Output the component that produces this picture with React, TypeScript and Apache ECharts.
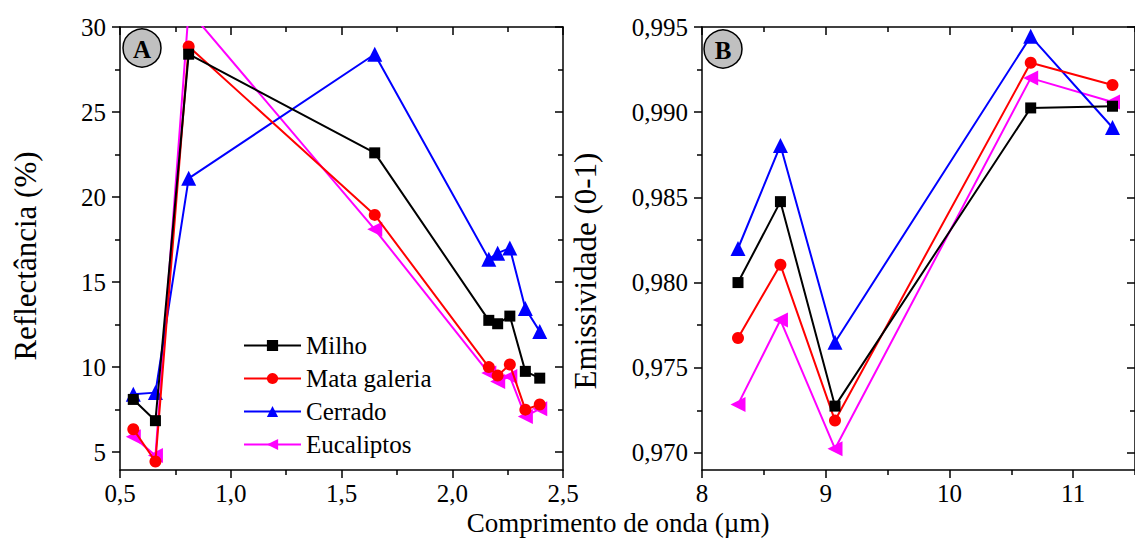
import React, { useEffect, useRef } from "react";
import * as echarts from "echarts";

// ---- Data ----
const seriesNames = ["Milho", "Mata galeria", "Cerrado", "Eucaliptos"];
const seriesColors = ["#000000", "#ff0000", "#0000ff", "#ff00ff"];
const seriesSymbols = ["rect", "circle", "triangle", "triangle"];
const seriesRotate = [0, 0, 0, 90];
const seriesSymbolSizes = [11, 12, 15, 15];

// Panel A: reflectance (%) vs wavelength (µm)
const wavelengthA = [0.56, 0.66, 0.81, 1.65, 2.165, 2.205, 2.26, 2.33, 2.395];
const milhoA = [8.1, 6.85, 28.4, 22.6, 12.75, 12.55, 13.0, 9.75, 9.35];
const mataA = [6.35, 4.45, 28.85, 18.95, 10.0, 9.5, 10.15, 7.5, 7.8];
const cerradoA = [8.4, 8.5, 21.1, 28.4, 16.35, 16.7, 17.0, 13.45, 12.1];
const eucaliptosA = [5.9, 4.8, 31.0, 18.1, 9.65, 9.15, 9.45, 7.1, 7.55];

// Panel B: emissivity (0-1) vs wavelength (µm)
const wavelengthB = [8.291, 8.634, 9.075, 10.657, 11.318];
const milhoB = [0.98, 0.98475, 0.97275, 0.99025, 0.99035];
const mataB = [0.97675, 0.98105, 0.9719, 0.9929, 0.9916];
const cerradoB = [0.982, 0.98805, 0.9765, 0.99445, 0.9891];
const eucaliptosB = [0.97285, 0.9778, 0.97025, 0.992, 0.9906];

// Tick values
const ticksYA = [5, 10, 15, 20, 25, 30];
const minorYA = [7.5, 12.5, 17.5, 22.5, 27.5];
const ticksXA = [0.5, 1.0, 1.5, 2.0, 2.5];
const minorXA = [0.75, 1.25, 1.75, 2.25];
const ticksYB = [0.97, 0.975, 0.98, 0.985, 0.99, 0.995];
const minorYB = [0.9725, 0.9775, 0.9825, 0.9875, 0.9925];
const ticksXB = [8, 9, 10, 11];
const minorXB = [8.5, 9.5, 10.5, 11.5];

const FONT = "Liberation Serif";

function makeAxes(
  dir: "x" | "y",
  gridIndex: number,
  min: number,
  max: number,
  major: number[],
  minor: number[],
  fmt: (v: number) => string
) {
  const lineStyle = { color: "#000", width: 1.5 };
  const main = dir === "x" ? "bottom" : "left";
  const mirror = dir === "x" ? "top" : "right";
  const base = { type: "value", gridIndex, min, max, splitLine: { show: false } };
  return [
    {
      ...base,
      position: main,
      axisLine: { show: true, onZero: false, lineStyle },
      axisTick: { show: true, inside: false, length: 8, customValues: major, lineStyle },
      axisLabel: {
        show: true,
        customValues: major,
        formatter: (v: number) => fmt(v),
        fontFamily: FONT,
        fontSize: 25,
        color: "#000",
        margin: dir === "x" ? 11 : 14,
      },
    },
    {
      ...base,
      position: main,
      axisLine: { show: false, onZero: false },
      axisTick: { show: true, inside: false, length: 5, customValues: minor, lineStyle },
      axisLabel: { show: false },
    },
    {
      ...base,
      position: mirror,
      axisLine: { show: true, onZero: false, lineStyle },
      axisTick: { show: true, inside: true, length: 8, customValues: major, lineStyle },
      axisLabel: { show: false },
    },
    {
      ...base,
      position: mirror,
      axisLine: { show: false, onZero: false },
      axisTick: { show: true, inside: true, length: 5, customValues: minor, lineStyle },
      axisLabel: { show: false },
    },
  ];
}

export default function App() {
  const ref = useRef<HTMLDivElement>(null);
  useEffect(() => {
    if (!ref.current) return;
    const chart = echarts.init(ref.current, null, { renderer: "svg" });
    const fmtComma1 = (v: number) => v.toFixed(1).replace(".", ",");
    const fmtComma3 = (v: number) => v.toFixed(3).replace(".", ",");
    const fmtInt = (v: number) => String(Math.round(v));

    const xAxes = [
      ...makeAxes("x", 0, 0.5, 2.5, ticksXA, minorXA, fmtComma1),
      ...makeAxes("x", 1, 8, 11.5, ticksXB, minorXB, fmtInt),
    ];
    const yAxes = [
      ...makeAxes("y", 0, 3.95, 30, ticksYA, minorYA, fmtInt),
      ...makeAxes("y", 1, 0.969, 0.995, ticksYB, minorYB, fmtComma3),
    ];

    const dataA = [milhoA, mataA, cerradoA, eucaliptosA];
    const dataB = [milhoB, mataB, cerradoB, eucaliptosB];
    const series: any[] = [];
    seriesNames.forEach((name, i) => {
      const common = {
        type: "line",
        name,
        symbol: seriesSymbols[i],
        symbolSize: seriesSymbolSizes[i],
        symbolRotate: seriesRotate[i],
        lineStyle: { color: seriesColors[i], width: 2 },
        itemStyle: { color: seriesColors[i] },
        clip: true,
        z: 10 - i,
      };
      series.push({
        ...common,
        xAxisIndex: 0,
        yAxisIndex: 0,
        data: wavelengthA.map((x, k) => [x, dataA[i][k]]),
      });
      series.push({
        ...common,
        xAxisIndex: 4,
        yAxisIndex: 4,
        data: wavelengthB.map((x, k) => [x, dataB[i][k]]),
      });
    });

    const titleStyle = {
      fontFamily: FONT,
      fontSize: 31,
      fill: "#000",
      align: "center",
      verticalAlign: "middle",
    };

    chart.setOption({
      animation: false,
      backgroundColor: "#fff",
      textStyle: { fontFamily: FONT, color: "#000" },
      grid: [
        { left: 120, top: 27, width: 443, height: 443 },
        { left: 702, top: 27, width: 443, height: 443 },
      ],
      xAxis: xAxes,
      yAxis: yAxes,
      legend: {
        data: seriesNames,
        orient: "vertical",
        left: 238,
        top: 328,
        itemWidth: 57,
        itemHeight: 14,
        itemGap: 8,
        textStyle: { fontFamily: FONT, fontSize: 25, color: "#000", lineHeight: 25 },
      },
      graphic: [
        {
          type: "circle",
          shape: { cx: 142, cy: 48, r: 19 },
          style: { fill: "#c0c0c0", stroke: "#000", lineWidth: 1.5 },
          z: 100,
        },
        {
          type: "text",
          x: 142,
          y: 49,
          style: { ...titleStyle, text: "A", fontWeight: "bold", fontSize: 25 },
          z: 101,
        },
        {
          type: "circle",
          shape: { cx: 723, cy: 49, r: 19 },
          style: { fill: "#c0c0c0", stroke: "#000", lineWidth: 1.5 },
          z: 100,
        },
        {
          type: "text",
          x: 723,
          y: 50,
          style: { ...titleStyle, text: "B", fontWeight: "bold", fontSize: 25 },
          z: 101,
        },
        {
          type: "text",
          x: 618,
          y: 523,
          style: { ...titleStyle, text: "Comprimento de onda (µm)", fontSize: 27 },
        },
        {
          type: "text",
          x: 25,
          y: 256,
          rotation: Math.PI / 2,
          style: { ...titleStyle, text: "Reflectância (%)" },
        },
        {
          type: "text",
          x: 585,
          y: 271,
          rotation: Math.PI / 2,
          style: { ...titleStyle, text: "Emissividade (0-1)" },
        },
      ],
      series,
    });
    return () => chart.dispose();
  }, []);
  return (
    <div
      ref={ref}
      style={{ position: "fixed", left: 0, top: 0, width: 1135, height: 539 }}
    />
  );
}
